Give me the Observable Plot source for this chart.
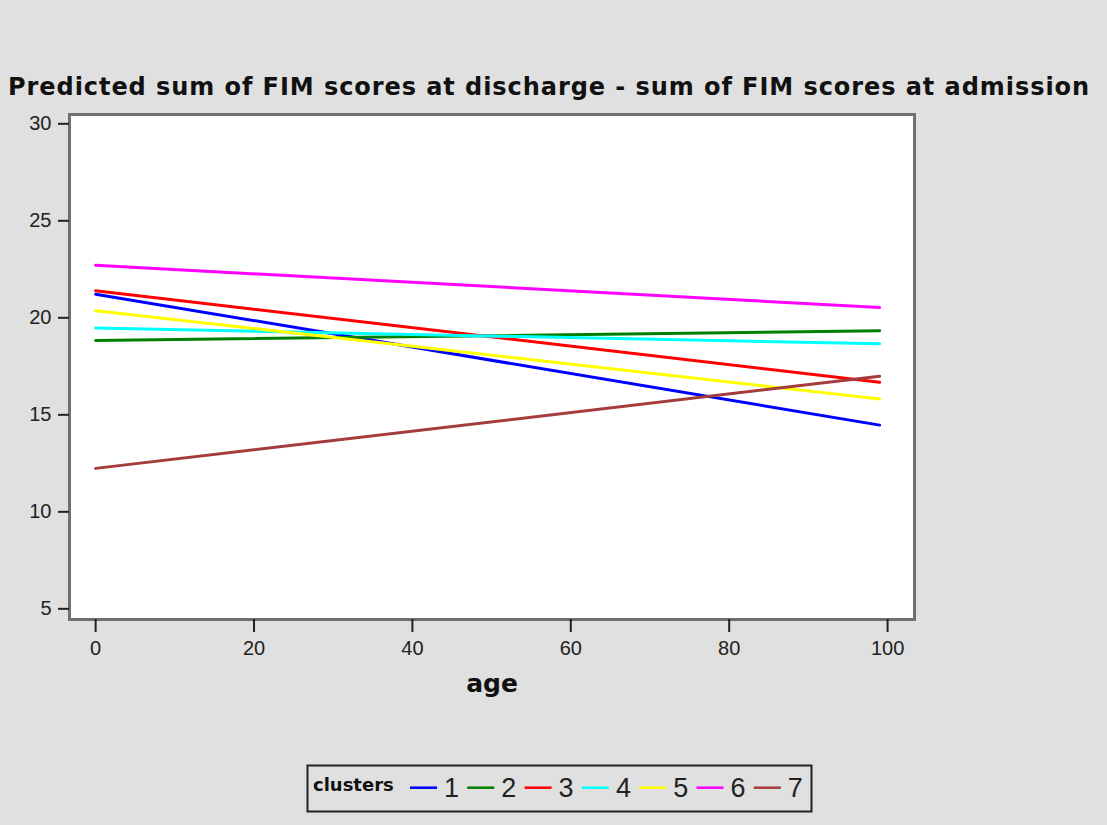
<!DOCTYPE html>
<html>
<head>
<meta charset="utf-8">
<script src="https://cdn.jsdelivr.net/npm/d3@7"></script>
<script src="https://cdn.jsdelivr.net/npm/@observablehq/plot@0.6"></script>
<style>
  html, body { margin: 0; padding: 0; background: #e0e0e0; }
  #wrap { position: relative; width: 1107px; height: 825px; background: #e0e0e0; overflow: hidden; }
  #title { position: absolute; left: 8px; top: 75px; font-family: "DejaVu Sans", sans-serif; font-weight: bold;
           font-size: 24px; line-height: 24px; white-space: nowrap; color: #111; }
  #chart { position: absolute; left: 0; top: 100px; }
  #legend { position: absolute; left: 0; top: 760px; }
</style>
</head>
<body>
<div id="wrap">
  <div id="title">Predicted sum of FIM scores at discharge - sum of FIM scores at admission</div>
  <div id="chart"></div>
  <div id="legend"></div>
</div>
<script>
// ---- data ----
const clusters = ["1", "2", "3", "4", "5", "6", "7"];
const colors = ["#0000ff", "#008000", "#ff0000", "#00ffff", "#ffff00", "#ff00ff", "#a53c3c"];
const ages = [0, 99];
const startValues = [21.22, 18.83, 21.40, 19.47, 20.37, 22.71, 12.24];
const endValues   = [14.47, 19.33, 16.68, 18.66, 15.82, 20.53, 16.99];
const xTicks = [0, 20, 40, 60, 80, 100];
const yTicks = [5, 10, 15, 20, 25, 30];
const xLabel = "age";
const legendTitle = "clusters";

const rows = [];
clusters.forEach((c, i) => {
  rows.push({cluster: c, age: ages[0], value: startValues[i]});
  rows.push({cluster: c, age: ages[1], value: endValues[i]});
});

// ---- title fit ----
(function fitTitle() {
  const el = document.getElementById("title");
  const target = 1082;
  const w = el.getBoundingClientRect().width;
  const n = el.textContent.length;
  el.style.letterSpacing = ((target - w) / n) + "px";
})();

// ---- chart ----
const tickFont = "Liberation Sans, Arial, sans-serif";
const chart = Plot.plot({
  width: 1107,
  height: 600,
  marginLeft: 69,
  marginRight: 193,
  marginTop: 14,
  marginBottom: 81,
  style: {background: "transparent", fontFamily: tickFont, fontSize: "20px", color: "#222"},
  x: {domain: [-3.3, 103.4]},
  y: {domain: [4.45, 30.48]},
  color: {domain: clusters, range: colors},
  marks: [
    Plot.frame({fill: "white"}),
    Plot.line(rows, {x: "age", y: "value", z: "cluster", stroke: "cluster", strokeWidth: 3}),
    Plot.frame({stroke: "#707070", strokeWidth: 3}),
    Plot.axisX({ticks: xTicks, tickSize: 13, tickPadding: 8, strokeWidth: 2, stroke: "#222",
                fontSize: 20, label: null, fill: "#222"}),
    Plot.axisY({ticks: yTicks, tickSize: 11, tickPadding: 7, strokeWidth: 2, stroke: "#222",
                fontSize: 20, label: null, fill: "#222"}),
    Plot.text([xLabel], {frameAnchor: "bottom", dy: 72, text: d => d, fontWeight: "bold",
                fontSize: 25, fontFamily: "DejaVu Sans, sans-serif", fill: "#111"})
  ]
});
document.getElementById("chart").appendChild(chart);

// ---- legend ----
const lg = d3.select("#legend").append("svg").attr("width", 1107).attr("height", 60);
lg.append("rect").attr("x", 307.5).attr("y", 5.5).attr("width", 504).attr("height", 46)
  .attr("fill", "none").attr("stroke", "#222").attr("stroke-width", 2);
lg.append("text").attr("x", 313).attr("y", 30.5).text(legendTitle)
  .attr("font-family", "DejaVu Sans, sans-serif").attr("font-weight", "bold")
  .attr("font-size", 18).attr("fill", "#111");
clusters.forEach((c, i) => {
  const x0 = 410 + i * 57.3;
  lg.append("line").attr("x1", x0).attr("x2", x0 + 27).attr("y1", 27.7).attr("y2", 27.7)
    .attr("stroke", colors[i]).attr("stroke-width", 2.5);
  lg.append("text").attr("x", x0 + 34).attr("y", 37.3).text(c)
    .attr("font-family", "Liberation Sans Narrow, Liberation Sans, Arial, sans-serif")
    .attr("font-size", 27).attr("fill", "#222");
});
</script>
</body>
</html>
